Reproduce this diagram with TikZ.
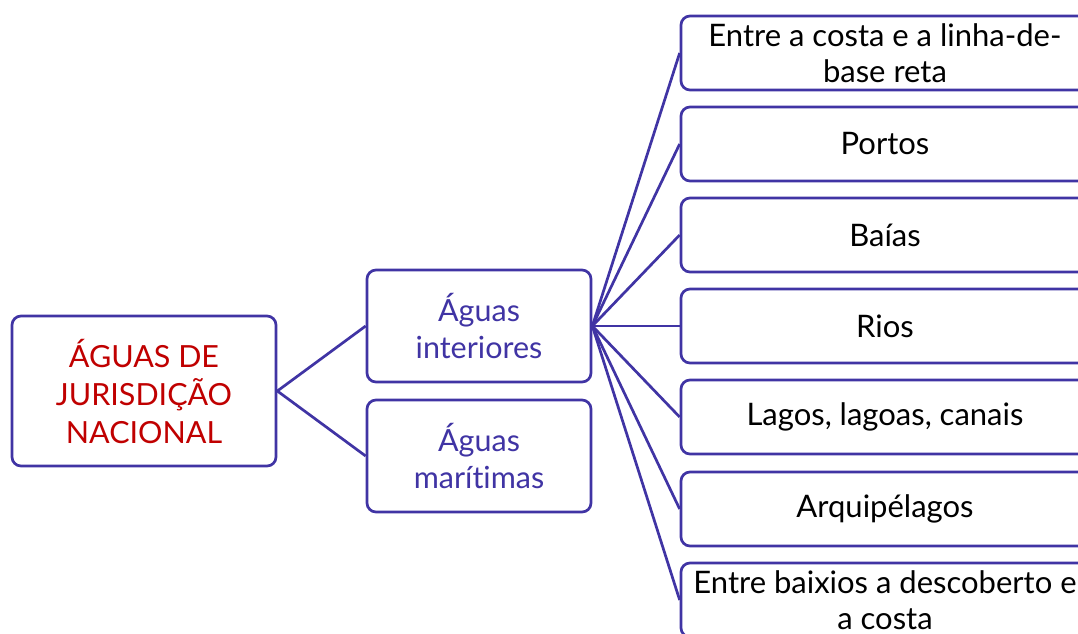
\documentclass[tikz,border=0pt]{standalone}
\usepackage{fontspec}
\setmainfont[Ligatures=NoCommon]{Lato}
\definecolor{lineblue}{RGB}{64,52,164}
\definecolor{rootred}{RGB}{192,0,0}
\begin{document}
\begin{tikzpicture}[x=1pt,y=-1pt,
 box/.style={draw=lineblue, line width=2.7pt, rounded corners=9pt, fill=white, align=center, inner sep=0pt, font=\fontsize{31}{36}\selectfont},
 leaf/.style={box, minimum width=408pt, minimum height=74pt, text=black},
 mid/.style={box, minimum width=224pt, minimum height=112pt, text=lineblue, font=\fontsize{30.5}{37}\selectfont},
 conn/.style={draw=lineblue, line width=2.7pt}]
\useasboundingbox (0,0) rectangle (1078,633);
\clip (0,0) rectangle (1078,633);
\node[box, minimum width=264pt, minimum height=150pt, text=rootred, font=\fontsize{30.5}{38}\selectfont] (root) at (144,391) {ÁGUAS DE\\JURISDIÇÃO\\NACIONAL};
\node[mid] (int) at (479,326) {Águas\\interiores};
\node[mid] (mar) at (479,456) {Águas\\marítimas};
\node[leaf] (l1) at (885,53) {Entre a costa e a linha-de-\\base reta};
\node[leaf] (l2) at (885,144) {Portos};
\node[leaf] (l3) at (885,235) {Baías};
\node[leaf] (l4) at (885,326) {Rios};
\node[leaf] (l5) at (885,417) {Lagos, lagoas, canais};
\node[leaf] (l6) at (885,509) {Arquipélagos};
\node[leaf] (l7) at (885,600) {Entre baixios a descoberto e\\a costa};
\draw[conn] (root.east) -- (int.west);
\draw[conn] (root.east) -- (mar.west);
\foreach \n in {l1,l2,l3,l4,l5,l6,l7} {\draw[conn] (int.east) -- (\n.west);}
\end{tikzpicture}
\end{document}
